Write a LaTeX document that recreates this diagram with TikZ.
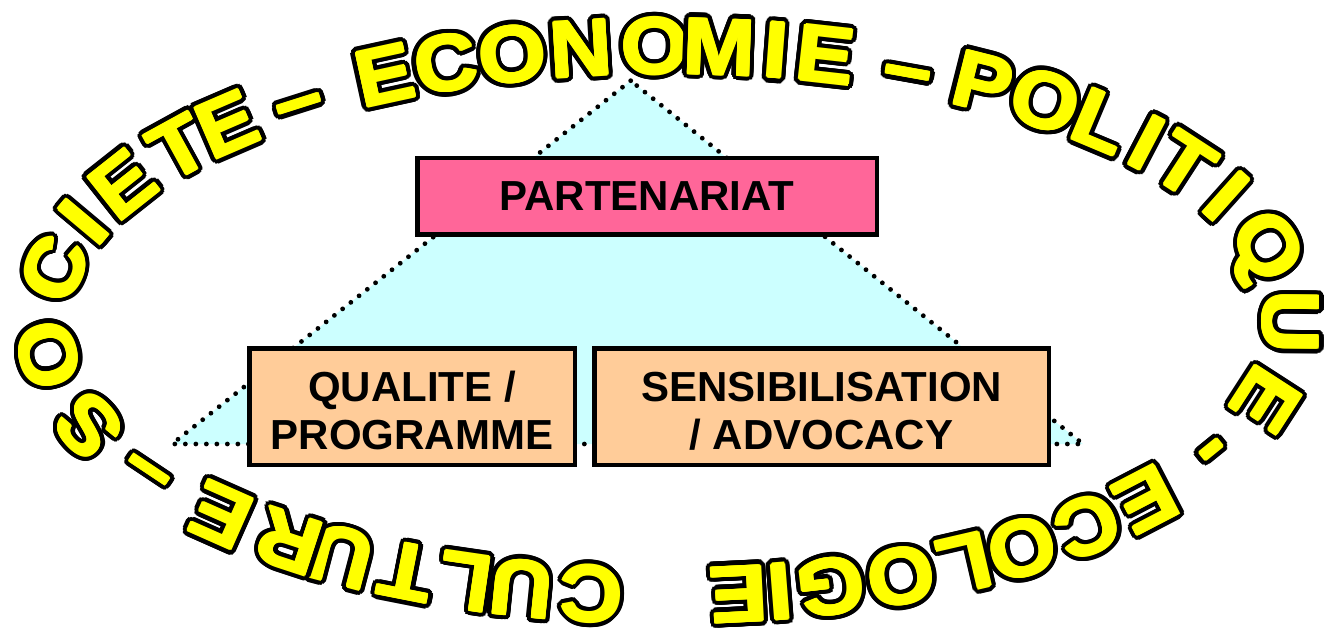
\documentclass[tikz,border=0pt]{standalone}
\usepackage{fontspec}
\setmainfont{Liberation Sans}
\usetikzlibrary{calc}
\definecolor{boxpink}{HTML}{FF6699}
\definecolor{boxpeach}{HTML}{FFCC99}
\definecolor{trifill}{HTML}{CCFFFF}
\definecolor{wordyellow}{HTML}{FFFF00}
\begin{document}
\begin{tikzpicture}[x=1pt,y=1pt,
  box/.style={draw=black, line width=4.5pt, inner sep=0pt, align=center, font=\fontsize{42}{48}\selectfont\bfseries},
  twoline/.style={text height=87pt, text depth=1pt},
  glyph/.style={inner sep=0pt, outer sep=0pt, anchor=base, font=\fontsize{80}{80}\selectfont\bfseries},
  dotline/.style={draw=black, line width=4.8pt, line cap=round, dash pattern=on 0pt off 10.5pt}]
\useasboundingbox (0,0) rectangle (1337,635);
\coordinate (apex) at (630.7,554.3);
\coordinate (bl) at (172,191);
\coordinate (br) at (1083,191);
\fill[trifill] (apex) -- (bl) -- (br) -- cycle;
\draw[dotline] (apex) -- (bl) -- (br) -- cycle;
\node[box, fill=boxpink, minimum width=459.5pt, minimum height=76.5pt] (part) at (647,438.5) {PARTENARIAT};
\node[box, twoline, fill=boxpeach, minimum width=325.5pt, minimum height=116.5pt] (qual) at (412,228.5) {QUALITE /\\PROGRAMME};
\node[box, twoline, fill=boxpeach, minimum width=454.5pt, minimum height=116.5pt] (sens) at (821.5,228.5) {SENSIBILISATION\\/ ADVOCACY};
\foreach \t/\ch [count=\i] in {262.8/C, 256.1/U, 250.6/L, 244.6/T, 237.6/U, 231.7/R, 223.1/E, 211.9/–,
  200.5/S, 186.2/O, 170.3/C, 160.8/I, 152.3/E, 142.9/T, 136.1/E, 127.4/–,
  117.7/E, 111.4/C, 104.8/O, 98.2/N, 91.2/O, 85.1/M, 79.7/I, 74.9/E, 66.6/–,
  58.8/P, 51.7/O, 44.7/L, 38.5/I, 32.6/T, 24.9/I, 14.2/Q, -0.2/U, -15.0/E, -27.1/-,
  -38.6/E, -46.5/C, -54.4/O, -60.8/L, -67.4/O, -74.4/G, -79.3/I, -83.3/E}{
  \pgfmathsetmacro{\bx}{667.5+596.0*cos(\t)}
  \pgfmathsetmacro{\by}{314+247.4*sin(\t)}
  \pgfmathsetmacro{\rot}{atan2(-247.4*cos(\t),596.0*sin(\t))}
  \foreach \a [count=\j] in {0,15,...,345}{
    \node[glyph, text=black, rotate=\rot, xscale=1.08] (rim\i-\j) at ([shift={(\a:5.5)}]\bx,\by) {\ch};
  }
  \foreach \a [count=\j] in {0,45,...,315}{
    \node[glyph, text=wordyellow, rotate=\rot, xscale=1.08] (fat\i-\j) at ([shift={(\a:1.2)}]\bx,\by) {\ch};
  }
  \node[glyph, text=wordyellow, rotate=\rot, xscale=1.08] (glyph\i) at (\bx,\by) {\ch};
}
\end{tikzpicture}
\end{document}
